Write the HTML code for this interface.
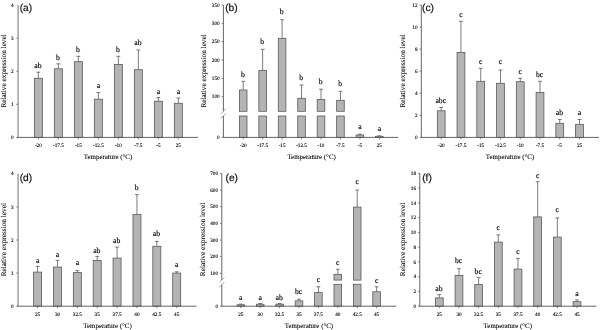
<!DOCTYPE html><html><head><meta charset="utf-8"><title>chart</title><style>html,body{margin:0;padding:0;background:#fff}svg{display:block}text{text-rendering:geometricPrecision}</style></head><body>
<svg width="600" height="330" viewBox="0 0 600 330">
<rect width="600" height="330" fill="#fff"/>
<defs><filter id="bl" x="0" y="0" width="600" height="330" filterUnits="userSpaceOnUse"><feGaussianBlur stdDeviation="0.35"/></filter></defs><g filter="url(#bl)">
<path d="M38.35 78.30V72.20M36.45 72.20H40.25" stroke="#5a5a5a" stroke-width="0.8" fill="none"/>
<rect x="34.35" y="78.30" width="8.00" height="59.10" fill="#b4b4b4" stroke="#5a5a5a" stroke-width="0.8"/>
<text x="37.95" y="68.30" font-family='"Liberation Serif", serif' font-size="7.7" text-anchor="middle" fill="#000" stroke="#000" stroke-width="0.15">ab</text>
<path d="M38.35 137.40v2" stroke="#555" stroke-width="0.7"/>
<text x="38.35" y="146.90" font-family='"Liberation Serif", serif' font-size="5.2" text-anchor="middle" fill="#000" stroke="#000" stroke-width="0.12">-20</text>
<path d="M58.35 68.80V63.80M56.45 63.80H60.25" stroke="#5a5a5a" stroke-width="0.8" fill="none"/>
<rect x="54.35" y="68.80" width="8.00" height="68.60" fill="#b4b4b4" stroke="#5a5a5a" stroke-width="0.8"/>
<text x="57.95" y="60.00" font-family='"Liberation Serif", serif' font-size="7.7" text-anchor="middle" fill="#000" stroke="#000" stroke-width="0.15">b</text>
<path d="M58.35 137.40v2" stroke="#555" stroke-width="0.7"/>
<text x="58.35" y="146.90" font-family='"Liberation Serif", serif' font-size="5.2" text-anchor="middle" fill="#000" stroke="#000" stroke-width="0.12">-17.5</text>
<path d="M78.35 61.70V56.30M76.45 56.30H80.25" stroke="#5a5a5a" stroke-width="0.8" fill="none"/>
<rect x="74.35" y="61.70" width="8.00" height="75.70" fill="#b4b4b4" stroke="#5a5a5a" stroke-width="0.8"/>
<text x="77.95" y="51.70" font-family='"Liberation Serif", serif' font-size="7.7" text-anchor="middle" fill="#000" stroke="#000" stroke-width="0.15">b</text>
<path d="M78.35 137.40v2" stroke="#555" stroke-width="0.7"/>
<text x="78.35" y="146.90" font-family='"Liberation Serif", serif' font-size="5.2" text-anchor="middle" fill="#000" stroke="#000" stroke-width="0.12">-15</text>
<path d="M98.35 99.20V92.50M96.45 92.50H100.25" stroke="#5a5a5a" stroke-width="0.8" fill="none"/>
<rect x="94.35" y="99.20" width="8.00" height="38.20" fill="#b4b4b4" stroke="#5a5a5a" stroke-width="0.8"/>
<text x="98.35" y="88.15" font-family='"Liberation Serif", serif' font-size="7.7" text-anchor="middle" fill="#000" stroke="#000" stroke-width="0.15">a</text>
<path d="M98.35 137.40v2" stroke="#555" stroke-width="0.7"/>
<text x="98.35" y="146.90" font-family='"Liberation Serif", serif' font-size="5.2" text-anchor="middle" fill="#000" stroke="#000" stroke-width="0.12">-12.5</text>
<path d="M118.35 64.50V56.30M116.45 56.30H120.25" stroke="#5a5a5a" stroke-width="0.8" fill="none"/>
<rect x="114.35" y="64.50" width="8.00" height="72.90" fill="#b4b4b4" stroke="#5a5a5a" stroke-width="0.8"/>
<text x="117.95" y="51.70" font-family='"Liberation Serif", serif' font-size="7.7" text-anchor="middle" fill="#000" stroke="#000" stroke-width="0.15">b</text>
<path d="M118.35 137.40v2" stroke="#555" stroke-width="0.7"/>
<text x="118.35" y="146.90" font-family='"Liberation Serif", serif' font-size="5.2" text-anchor="middle" fill="#000" stroke="#000" stroke-width="0.12">-10</text>
<path d="M138.35 69.70V50.00M136.45 50.00H140.25" stroke="#5a5a5a" stroke-width="0.8" fill="none"/>
<rect x="134.35" y="69.70" width="8.00" height="67.70" fill="#b4b4b4" stroke="#5a5a5a" stroke-width="0.8"/>
<text x="137.95" y="45.00" font-family='"Liberation Serif", serif' font-size="7.7" text-anchor="middle" fill="#000" stroke="#000" stroke-width="0.15">ab</text>
<path d="M138.35 137.40v2" stroke="#555" stroke-width="0.7"/>
<text x="138.35" y="146.90" font-family='"Liberation Serif", serif' font-size="5.2" text-anchor="middle" fill="#000" stroke="#000" stroke-width="0.12">-7.5</text>
<path d="M158.35 101.20V97.50M156.45 97.50H160.25" stroke="#5a5a5a" stroke-width="0.8" fill="none"/>
<rect x="154.35" y="101.20" width="8.00" height="36.20" fill="#b4b4b4" stroke="#5a5a5a" stroke-width="0.8"/>
<text x="158.35" y="93.65" font-family='"Liberation Serif", serif' font-size="7.7" text-anchor="middle" fill="#000" stroke="#000" stroke-width="0.15">a</text>
<path d="M158.35 137.40v2" stroke="#555" stroke-width="0.7"/>
<text x="158.35" y="146.90" font-family='"Liberation Serif", serif' font-size="5.2" text-anchor="middle" fill="#000" stroke="#000" stroke-width="0.12">-5</text>
<path d="M178.35 103.30V98.00M176.45 98.00H180.25" stroke="#5a5a5a" stroke-width="0.8" fill="none"/>
<rect x="174.35" y="103.30" width="8.00" height="34.10" fill="#b4b4b4" stroke="#5a5a5a" stroke-width="0.8"/>
<text x="178.35" y="93.95" font-family='"Liberation Serif", serif' font-size="7.7" text-anchor="middle" fill="#000" stroke="#000" stroke-width="0.15">a</text>
<path d="M178.35 137.40v2" stroke="#555" stroke-width="0.7"/>
<text x="178.35" y="146.90" font-family='"Liberation Serif", serif' font-size="5.2" text-anchor="middle" fill="#000" stroke="#000" stroke-width="0.12">25</text>
<path d="M18.10 5.00V137.40" stroke="#a2a2a2" stroke-width="1.5" fill="none"/>
<path d="M17.35 137.40H198.00" stroke="#555" stroke-width="0.9" fill="none"/>
<path d="M16.30 137.40h1.8" stroke="#555" stroke-width="0.7"/>
<text x="13.60" y="139.10" font-family='"Liberation Serif", serif' font-size="5.2" text-anchor="end" fill="#000" stroke="#000" stroke-width="0.12">0</text>
<path d="M16.30 104.30h1.8" stroke="#555" stroke-width="0.7"/>
<text x="13.60" y="106.00" font-family='"Liberation Serif", serif' font-size="5.2" text-anchor="end" fill="#000" stroke="#000" stroke-width="0.12">1</text>
<path d="M16.30 71.20h1.8" stroke="#555" stroke-width="0.7"/>
<text x="13.60" y="72.90" font-family='"Liberation Serif", serif' font-size="5.2" text-anchor="end" fill="#000" stroke="#000" stroke-width="0.12">2</text>
<path d="M16.30 38.10h1.8" stroke="#555" stroke-width="0.7"/>
<text x="13.60" y="39.80" font-family='"Liberation Serif", serif' font-size="5.2" text-anchor="end" fill="#000" stroke="#000" stroke-width="0.12">3</text>
<text x="13.60" y="6.70" font-family='"Liberation Serif", serif' font-size="5.2" text-anchor="end" fill="#000" stroke="#000" stroke-width="0.12">4</text>
<text x="19.70" y="10.70" font-family='"Liberation Sans", sans-serif' font-size="10.2" fill="#111" stroke="#111" stroke-width="0.2">(a)</text>
<text transform="translate(6.20 70.90) rotate(-90)" font-family='"Liberation Serif", serif' font-size="7.3" text-anchor="middle" fill="#000" stroke="#000" stroke-width="0.08">Relative expression level</text>
<text x="108.00" y="159.20" font-family='"Liberation Serif", serif' font-size="6.9" text-anchor="middle" fill="#000" stroke="#000" stroke-width="0.08">Temperature (°C)</text>
<path d="M243.20 90.00V81.30M241.30 81.30H245.10" stroke="#5a5a5a" stroke-width="0.8" fill="none"/>
<rect x="239.40" y="90.00" width="7.60" height="21.30" fill="#b4b4b4" stroke="#5a5a5a" stroke-width="0.8"/>
<rect x="239.40" y="116.00" width="7.60" height="21.40" fill="#b4b4b4" stroke="#5a5a5a" stroke-width="0.8"/>
<text x="242.80" y="77.20" font-family='"Liberation Serif", serif' font-size="7.7" text-anchor="middle" fill="#000" stroke="#000" stroke-width="0.15">b</text>
<path d="M243.20 137.40v2" stroke="#555" stroke-width="0.7"/>
<text x="243.20" y="146.90" font-family='"Liberation Serif", serif' font-size="5.2" text-anchor="middle" fill="#000" stroke="#000" stroke-width="0.12">-20</text>
<path d="M262.65 70.50V49.30M260.75 49.30H264.55" stroke="#5a5a5a" stroke-width="0.8" fill="none"/>
<rect x="258.85" y="70.50" width="7.60" height="40.80" fill="#b4b4b4" stroke="#5a5a5a" stroke-width="0.8"/>
<rect x="258.85" y="116.00" width="7.60" height="21.40" fill="#b4b4b4" stroke="#5a5a5a" stroke-width="0.8"/>
<text x="262.25" y="43.50" font-family='"Liberation Serif", serif' font-size="7.7" text-anchor="middle" fill="#000" stroke="#000" stroke-width="0.15">b</text>
<path d="M262.65 137.40v2" stroke="#555" stroke-width="0.7"/>
<text x="262.65" y="146.90" font-family='"Liberation Serif", serif' font-size="5.2" text-anchor="middle" fill="#000" stroke="#000" stroke-width="0.12">-17.5</text>
<path d="M282.10 38.30V19.70M280.20 19.70H284.00" stroke="#5a5a5a" stroke-width="0.8" fill="none"/>
<rect x="278.30" y="38.30" width="7.60" height="73.00" fill="#b4b4b4" stroke="#5a5a5a" stroke-width="0.8"/>
<rect x="278.30" y="116.00" width="7.60" height="21.40" fill="#b4b4b4" stroke="#5a5a5a" stroke-width="0.8"/>
<text x="281.70" y="14.20" font-family='"Liberation Serif", serif' font-size="7.7" text-anchor="middle" fill="#000" stroke="#000" stroke-width="0.15">b</text>
<path d="M282.10 137.40v2" stroke="#555" stroke-width="0.7"/>
<text x="282.10" y="146.90" font-family='"Liberation Serif", serif' font-size="5.2" text-anchor="middle" fill="#000" stroke="#000" stroke-width="0.12">-15</text>
<path d="M301.55 98.30V85.00M299.65 85.00H303.45" stroke="#5a5a5a" stroke-width="0.8" fill="none"/>
<rect x="297.75" y="98.30" width="7.60" height="13.00" fill="#b4b4b4" stroke="#5a5a5a" stroke-width="0.8"/>
<rect x="297.75" y="116.00" width="7.60" height="21.40" fill="#b4b4b4" stroke="#5a5a5a" stroke-width="0.8"/>
<text x="301.15" y="80.00" font-family='"Liberation Serif", serif' font-size="7.7" text-anchor="middle" fill="#000" stroke="#000" stroke-width="0.15">b</text>
<path d="M301.55 137.40v2" stroke="#555" stroke-width="0.7"/>
<text x="301.55" y="146.90" font-family='"Liberation Serif", serif' font-size="5.2" text-anchor="middle" fill="#000" stroke="#000" stroke-width="0.12">-12.5</text>
<path d="M321.00 99.50V89.20M319.10 89.20H322.90" stroke="#5a5a5a" stroke-width="0.8" fill="none"/>
<rect x="317.20" y="99.50" width="7.60" height="11.80" fill="#b4b4b4" stroke="#5a5a5a" stroke-width="0.8"/>
<rect x="317.20" y="116.00" width="7.60" height="21.40" fill="#b4b4b4" stroke="#5a5a5a" stroke-width="0.8"/>
<text x="320.60" y="83.80" font-family='"Liberation Serif", serif' font-size="7.7" text-anchor="middle" fill="#000" stroke="#000" stroke-width="0.15">b</text>
<path d="M321.00 137.40v2" stroke="#555" stroke-width="0.7"/>
<text x="321.00" y="146.90" font-family='"Liberation Serif", serif' font-size="5.2" text-anchor="middle" fill="#000" stroke="#000" stroke-width="0.12">-10</text>
<path d="M340.45 100.30V91.30M338.55 91.30H342.35" stroke="#5a5a5a" stroke-width="0.8" fill="none"/>
<rect x="336.65" y="100.30" width="7.60" height="11.00" fill="#b4b4b4" stroke="#5a5a5a" stroke-width="0.8"/>
<rect x="336.65" y="116.00" width="7.60" height="21.40" fill="#b4b4b4" stroke="#5a5a5a" stroke-width="0.8"/>
<text x="340.05" y="85.80" font-family='"Liberation Serif", serif' font-size="7.7" text-anchor="middle" fill="#000" stroke="#000" stroke-width="0.15">b</text>
<path d="M340.45 137.40v2" stroke="#555" stroke-width="0.7"/>
<text x="340.45" y="146.90" font-family='"Liberation Serif", serif' font-size="5.2" text-anchor="middle" fill="#000" stroke="#000" stroke-width="0.12">-7.5</text>
<path d="M359.90 135.00V134.20M358.00 134.20H361.80" stroke="#5a5a5a" stroke-width="0.8" fill="none"/>
<rect x="356.10" y="135.00" width="7.60" height="2.40" fill="#b4b4b4" stroke="#5a5a5a" stroke-width="0.8"/>
<text x="359.90" y="128.65" font-family='"Liberation Serif", serif' font-size="7.7" text-anchor="middle" fill="#000" stroke="#000" stroke-width="0.15">a</text>
<path d="M359.90 137.40v2" stroke="#555" stroke-width="0.7"/>
<text x="359.90" y="146.90" font-family='"Liberation Serif", serif' font-size="5.2" text-anchor="middle" fill="#000" stroke="#000" stroke-width="0.12">-5</text>
<path d="M379.35 136.30V135.80M377.45 135.80H381.25" stroke="#5a5a5a" stroke-width="0.8" fill="none"/>
<rect x="375.55" y="136.30" width="7.60" height="1.10" fill="#b4b4b4" stroke="#5a5a5a" stroke-width="0.8"/>
<text x="379.35" y="131.15" font-family='"Liberation Serif", serif' font-size="7.7" text-anchor="middle" fill="#000" stroke="#000" stroke-width="0.15">a</text>
<path d="M379.35 137.40v2" stroke="#555" stroke-width="0.7"/>
<text x="379.35" y="146.90" font-family='"Liberation Serif", serif' font-size="5.2" text-anchor="middle" fill="#000" stroke="#000" stroke-width="0.12">25</text>
<path d="M223.40 5.00V111.30M223.40 116.00V137.40" stroke="#555" stroke-width="0.9" fill="none"/>
<path d="M220.90 113.90L225.90 108.70" stroke="#666" stroke-width="0.6"/>
<path d="M220.90 118.60L225.90 113.40" stroke="#666" stroke-width="0.6"/>
<path d="M222.95 137.40H398.30" stroke="#555" stroke-width="0.9" fill="none"/>
<path d="M221.60 137.40h1.8" stroke="#555" stroke-width="0.7"/>
<text x="219.60" y="139.10" font-family='"Liberation Serif", serif' font-size="5.2" text-anchor="end" fill="#000" stroke="#000" stroke-width="0.12">0</text>
<path d="M221.60 96.70h1.8" stroke="#555" stroke-width="0.7"/>
<text x="219.60" y="98.40" font-family='"Liberation Serif", serif' font-size="5.2" text-anchor="end" fill="#000" stroke="#000" stroke-width="0.12">100</text>
<path d="M221.60 78.37h1.8" stroke="#555" stroke-width="0.7"/>
<text x="219.60" y="80.07" font-family='"Liberation Serif", serif' font-size="5.2" text-anchor="end" fill="#000" stroke="#000" stroke-width="0.12">150</text>
<path d="M221.60 60.03h1.8" stroke="#555" stroke-width="0.7"/>
<text x="219.60" y="61.73" font-family='"Liberation Serif", serif' font-size="5.2" text-anchor="end" fill="#000" stroke="#000" stroke-width="0.12">200</text>
<path d="M221.60 41.70h1.8" stroke="#555" stroke-width="0.7"/>
<text x="219.60" y="43.40" font-family='"Liberation Serif", serif' font-size="5.2" text-anchor="end" fill="#000" stroke="#000" stroke-width="0.12">250</text>
<path d="M221.60 23.37h1.8" stroke="#555" stroke-width="0.7"/>
<text x="219.60" y="25.07" font-family='"Liberation Serif", serif' font-size="5.2" text-anchor="end" fill="#000" stroke="#000" stroke-width="0.12">300</text>
<path d="M221.60 5.03h1.8" stroke="#555" stroke-width="0.7"/>
<text x="219.60" y="6.73" font-family='"Liberation Serif", serif' font-size="5.2" text-anchor="end" fill="#000" stroke="#000" stroke-width="0.12">350</text>
<text x="225.20" y="10.70" font-family='"Liberation Sans", sans-serif' font-size="10.2" fill="#111" stroke="#111" stroke-width="0.2">(b)</text>
<text transform="translate(206.30 70.90) rotate(-90)" font-family='"Liberation Serif", serif' font-size="7.3" text-anchor="middle" fill="#000" stroke="#000" stroke-width="0.08">Relative expression level</text>
<text x="311.60" y="159.20" font-family='"Liberation Serif", serif' font-size="6.9" text-anchor="middle" fill="#000" stroke="#000" stroke-width="0.08">Temperature (°C)</text>
<path d="M441.20 110.80V107.50M439.30 107.50H443.10" stroke="#5a5a5a" stroke-width="0.8" fill="none"/>
<rect x="437.30" y="110.80" width="7.80" height="26.60" fill="#b4b4b4" stroke="#5a5a5a" stroke-width="0.8"/>
<text x="440.80" y="102.80" font-family='"Liberation Serif", serif' font-size="7.7" text-anchor="middle" fill="#000" stroke="#000" stroke-width="0.15">abc</text>
<path d="M441.20 137.40v2" stroke="#555" stroke-width="0.7"/>
<text x="441.20" y="146.90" font-family='"Liberation Serif", serif' font-size="5.2" text-anchor="middle" fill="#000" stroke="#000" stroke-width="0.12">-20</text>
<path d="M460.96 52.50V21.30M459.06 21.30H462.86" stroke="#5a5a5a" stroke-width="0.8" fill="none"/>
<rect x="457.06" y="52.50" width="7.80" height="84.90" fill="#b4b4b4" stroke="#5a5a5a" stroke-width="0.8"/>
<text x="460.96" y="16.65" font-family='"Liberation Serif", serif' font-size="7.7" text-anchor="middle" fill="#000" stroke="#000" stroke-width="0.15">c</text>
<path d="M460.96 137.40v2" stroke="#555" stroke-width="0.7"/>
<text x="460.96" y="146.90" font-family='"Liberation Serif", serif' font-size="5.2" text-anchor="middle" fill="#000" stroke="#000" stroke-width="0.12">-17.5</text>
<path d="M480.72 81.30V68.30M478.82 68.30H482.62" stroke="#5a5a5a" stroke-width="0.8" fill="none"/>
<rect x="476.82" y="81.30" width="7.80" height="56.10" fill="#b4b4b4" stroke="#5a5a5a" stroke-width="0.8"/>
<text x="480.72" y="63.65" font-family='"Liberation Serif", serif' font-size="7.7" text-anchor="middle" fill="#000" stroke="#000" stroke-width="0.15">c</text>
<path d="M480.72 137.40v2" stroke="#555" stroke-width="0.7"/>
<text x="480.72" y="146.90" font-family='"Liberation Serif", serif' font-size="5.2" text-anchor="middle" fill="#000" stroke="#000" stroke-width="0.12">-15</text>
<path d="M500.48 83.30V70.00M498.58 70.00H502.38" stroke="#5a5a5a" stroke-width="0.8" fill="none"/>
<rect x="496.58" y="83.30" width="7.80" height="54.10" fill="#b4b4b4" stroke="#5a5a5a" stroke-width="0.8"/>
<text x="500.48" y="63.65" font-family='"Liberation Serif", serif' font-size="7.7" text-anchor="middle" fill="#000" stroke="#000" stroke-width="0.15">c</text>
<path d="M500.48 137.40v2" stroke="#555" stroke-width="0.7"/>
<text x="500.48" y="146.90" font-family='"Liberation Serif", serif' font-size="5.2" text-anchor="middle" fill="#000" stroke="#000" stroke-width="0.12">-12.5</text>
<path d="M520.24 81.70V78.30M518.34 78.30H522.14" stroke="#5a5a5a" stroke-width="0.8" fill="none"/>
<rect x="516.34" y="81.70" width="7.80" height="55.70" fill="#b4b4b4" stroke="#5a5a5a" stroke-width="0.8"/>
<text x="520.24" y="73.65" font-family='"Liberation Serif", serif' font-size="7.7" text-anchor="middle" fill="#000" stroke="#000" stroke-width="0.15">c</text>
<path d="M520.24 137.40v2" stroke="#555" stroke-width="0.7"/>
<text x="520.24" y="146.90" font-family='"Liberation Serif", serif' font-size="5.2" text-anchor="middle" fill="#000" stroke="#000" stroke-width="0.12">-10</text>
<path d="M540.00 92.50V81.30M538.10 81.30H541.90" stroke="#5a5a5a" stroke-width="0.8" fill="none"/>
<rect x="536.10" y="92.50" width="7.80" height="44.90" fill="#b4b4b4" stroke="#5a5a5a" stroke-width="0.8"/>
<text x="539.60" y="77.00" font-family='"Liberation Serif", serif' font-size="7.7" text-anchor="middle" fill="#000" stroke="#000" stroke-width="0.15">bc</text>
<path d="M540.00 137.40v2" stroke="#555" stroke-width="0.7"/>
<text x="540.00" y="146.90" font-family='"Liberation Serif", serif' font-size="5.2" text-anchor="middle" fill="#000" stroke="#000" stroke-width="0.12">-7.5</text>
<path d="M559.76 123.30V119.50M557.86 119.50H561.66" stroke="#5a5a5a" stroke-width="0.8" fill="none"/>
<rect x="555.86" y="123.30" width="7.80" height="14.10" fill="#b4b4b4" stroke="#5a5a5a" stroke-width="0.8"/>
<text x="559.36" y="114.70" font-family='"Liberation Serif", serif' font-size="7.7" text-anchor="middle" fill="#000" stroke="#000" stroke-width="0.15">ab</text>
<path d="M559.76 137.40v2" stroke="#555" stroke-width="0.7"/>
<text x="559.76" y="146.90" font-family='"Liberation Serif", serif' font-size="5.2" text-anchor="middle" fill="#000" stroke="#000" stroke-width="0.12">-5</text>
<path d="M579.52 124.30V119.50M577.62 119.50H581.42" stroke="#5a5a5a" stroke-width="0.8" fill="none"/>
<rect x="575.62" y="124.30" width="7.80" height="13.10" fill="#b4b4b4" stroke="#5a5a5a" stroke-width="0.8"/>
<text x="579.52" y="115.25" font-family='"Liberation Serif", serif' font-size="7.7" text-anchor="middle" fill="#000" stroke="#000" stroke-width="0.15">a</text>
<path d="M579.52 137.40v2" stroke="#555" stroke-width="0.7"/>
<text x="579.52" y="146.90" font-family='"Liberation Serif", serif' font-size="5.2" text-anchor="middle" fill="#000" stroke="#000" stroke-width="0.12">25</text>
<path d="M421.30 5.00V137.40" stroke="#555" stroke-width="0.9" fill="none"/>
<path d="M420.85 137.40H599.00" stroke="#555" stroke-width="0.9" fill="none"/>
<path d="M419.50 137.40h1.8" stroke="#555" stroke-width="0.7"/>
<text x="417.50" y="139.10" font-family='"Liberation Serif", serif' font-size="5.2" text-anchor="end" fill="#000" stroke="#000" stroke-width="0.12">0</text>
<path d="M419.50 115.34h1.8" stroke="#555" stroke-width="0.7"/>
<text x="417.50" y="117.04" font-family='"Liberation Serif", serif' font-size="5.2" text-anchor="end" fill="#000" stroke="#000" stroke-width="0.12">2</text>
<path d="M419.50 93.28h1.8" stroke="#555" stroke-width="0.7"/>
<text x="417.50" y="94.98" font-family='"Liberation Serif", serif' font-size="5.2" text-anchor="end" fill="#000" stroke="#000" stroke-width="0.12">4</text>
<path d="M419.50 71.22h1.8" stroke="#555" stroke-width="0.7"/>
<text x="417.50" y="72.92" font-family='"Liberation Serif", serif' font-size="5.2" text-anchor="end" fill="#000" stroke="#000" stroke-width="0.12">6</text>
<path d="M419.50 49.16h1.8" stroke="#555" stroke-width="0.7"/>
<text x="417.50" y="50.86" font-family='"Liberation Serif", serif' font-size="5.2" text-anchor="end" fill="#000" stroke="#000" stroke-width="0.12">8</text>
<path d="M419.50 27.10h1.8" stroke="#555" stroke-width="0.7"/>
<text x="417.50" y="28.80" font-family='"Liberation Serif", serif' font-size="5.2" text-anchor="end" fill="#000" stroke="#000" stroke-width="0.12">10</text>
<path d="M419.50 5.04h1.8" stroke="#555" stroke-width="0.7"/>
<text x="417.50" y="6.74" font-family='"Liberation Serif", serif' font-size="5.2" text-anchor="end" fill="#000" stroke="#000" stroke-width="0.12">12</text>
<text x="422.10" y="10.70" font-family='"Liberation Sans", sans-serif' font-size="10.2" fill="#111" stroke="#111" stroke-width="0.2">(c)</text>
<text transform="translate(405.30 70.90) rotate(-90)" font-family='"Liberation Serif", serif' font-size="7.3" text-anchor="middle" fill="#000" stroke="#000" stroke-width="0.08">Relative expression level</text>
<text x="510.00" y="159.20" font-family='"Liberation Serif", serif' font-size="6.9" text-anchor="middle" fill="#000" stroke="#000" stroke-width="0.08">Temperature (°C)</text>
<g transform="translate(0 0.4)">
<path d="M37.60 271.70V266.00M35.70 266.00H39.50" stroke="#5a5a5a" stroke-width="0.8" fill="none"/>
<rect x="33.60" y="271.70" width="8.00" height="34.10" fill="#b4b4b4" stroke="#5a5a5a" stroke-width="0.8"/>
<text x="37.60" y="262.45" font-family='"Liberation Serif", serif' font-size="7.7" text-anchor="middle" fill="#000" stroke="#000" stroke-width="0.15">a</text>
<path d="M37.60 305.80v2" stroke="#555" stroke-width="0.7"/>
<text x="37.60" y="315.30" font-family='"Liberation Serif", serif' font-size="5.2" text-anchor="middle" fill="#000" stroke="#000" stroke-width="0.12">25</text>
<path d="M57.47 266.70V260.00M55.57 260.00H59.37" stroke="#5a5a5a" stroke-width="0.8" fill="none"/>
<rect x="53.47" y="266.70" width="8.00" height="39.10" fill="#b4b4b4" stroke="#5a5a5a" stroke-width="0.8"/>
<text x="57.47" y="256.65" font-family='"Liberation Serif", serif' font-size="7.7" text-anchor="middle" fill="#000" stroke="#000" stroke-width="0.15">a</text>
<path d="M57.47 305.80v2" stroke="#555" stroke-width="0.7"/>
<text x="57.47" y="315.30" font-family='"Liberation Serif", serif' font-size="5.2" text-anchor="middle" fill="#000" stroke="#000" stroke-width="0.12">30</text>
<path d="M77.34 272.20V270.20M75.44 270.20H79.24" stroke="#5a5a5a" stroke-width="0.8" fill="none"/>
<rect x="73.34" y="272.20" width="8.00" height="33.60" fill="#b4b4b4" stroke="#5a5a5a" stroke-width="0.8"/>
<text x="77.34" y="264.95" font-family='"Liberation Serif", serif' font-size="7.7" text-anchor="middle" fill="#000" stroke="#000" stroke-width="0.15">a</text>
<path d="M77.34 305.80v2" stroke="#555" stroke-width="0.7"/>
<text x="77.34" y="315.30" font-family='"Liberation Serif", serif' font-size="5.2" text-anchor="middle" fill="#000" stroke="#000" stroke-width="0.12">32.5</text>
<path d="M97.21 260.00V256.00M95.31 256.00H99.11" stroke="#5a5a5a" stroke-width="0.8" fill="none"/>
<rect x="93.21" y="260.00" width="8.00" height="45.80" fill="#b4b4b4" stroke="#5a5a5a" stroke-width="0.8"/>
<text x="96.81" y="252.70" font-family='"Liberation Serif", serif' font-size="7.7" text-anchor="middle" fill="#000" stroke="#000" stroke-width="0.15">ab</text>
<path d="M97.21 305.80v2" stroke="#555" stroke-width="0.7"/>
<text x="97.21" y="315.30" font-family='"Liberation Serif", serif' font-size="5.2" text-anchor="middle" fill="#000" stroke="#000" stroke-width="0.12">35</text>
<path d="M117.08 257.70V246.70M115.18 246.70H118.98" stroke="#5a5a5a" stroke-width="0.8" fill="none"/>
<rect x="113.08" y="257.70" width="8.00" height="48.10" fill="#b4b4b4" stroke="#5a5a5a" stroke-width="0.8"/>
<text x="116.68" y="242.50" font-family='"Liberation Serif", serif' font-size="7.7" text-anchor="middle" fill="#000" stroke="#000" stroke-width="0.15">ab</text>
<path d="M117.08 305.80v2" stroke="#555" stroke-width="0.7"/>
<text x="117.08" y="315.30" font-family='"Liberation Serif", serif' font-size="5.2" text-anchor="middle" fill="#000" stroke="#000" stroke-width="0.12">37.5</text>
<path d="M136.95 214.20V194.20M135.05 194.20H138.85" stroke="#5a5a5a" stroke-width="0.8" fill="none"/>
<rect x="132.95" y="214.20" width="8.00" height="91.60" fill="#b4b4b4" stroke="#5a5a5a" stroke-width="0.8"/>
<text x="136.55" y="189.40" font-family='"Liberation Serif", serif' font-size="7.7" text-anchor="middle" fill="#000" stroke="#000" stroke-width="0.15">b</text>
<path d="M136.95 305.80v2" stroke="#555" stroke-width="0.7"/>
<text x="136.95" y="315.30" font-family='"Liberation Serif", serif' font-size="5.2" text-anchor="middle" fill="#000" stroke="#000" stroke-width="0.12">40</text>
<path d="M156.82 245.90V241.00M154.92 241.00H158.72" stroke="#5a5a5a" stroke-width="0.8" fill="none"/>
<rect x="152.82" y="245.90" width="8.00" height="59.90" fill="#b4b4b4" stroke="#5a5a5a" stroke-width="0.8"/>
<text x="156.42" y="235.90" font-family='"Liberation Serif", serif' font-size="7.7" text-anchor="middle" fill="#000" stroke="#000" stroke-width="0.15">ab</text>
<path d="M156.82 305.80v2" stroke="#555" stroke-width="0.7"/>
<text x="156.82" y="315.30" font-family='"Liberation Serif", serif' font-size="5.2" text-anchor="middle" fill="#000" stroke="#000" stroke-width="0.12">42.5</text>
<path d="M176.69 272.70V271.40M174.79 271.40H178.59" stroke="#5a5a5a" stroke-width="0.8" fill="none"/>
<rect x="172.69" y="272.70" width="8.00" height="33.10" fill="#b4b4b4" stroke="#5a5a5a" stroke-width="0.8"/>
<text x="176.69" y="266.15" font-family='"Liberation Serif", serif' font-size="7.7" text-anchor="middle" fill="#000" stroke="#000" stroke-width="0.15">a</text>
<path d="M176.69 305.80v2" stroke="#555" stroke-width="0.7"/>
<text x="176.69" y="315.30" font-family='"Liberation Serif", serif' font-size="5.2" text-anchor="middle" fill="#000" stroke="#000" stroke-width="0.12">45</text>
<path d="M18.10 173.40V305.80" stroke="#a2a2a2" stroke-width="1.5" fill="none"/>
<path d="M17.35 305.80H196.50" stroke="#555" stroke-width="0.9" fill="none"/>
<path d="M16.30 305.80h1.8" stroke="#555" stroke-width="0.7"/>
<text x="13.60" y="307.50" font-family='"Liberation Serif", serif' font-size="5.2" text-anchor="end" fill="#000" stroke="#000" stroke-width="0.12">0</text>
<path d="M16.30 272.70h1.8" stroke="#555" stroke-width="0.7"/>
<text x="13.60" y="274.40" font-family='"Liberation Serif", serif' font-size="5.2" text-anchor="end" fill="#000" stroke="#000" stroke-width="0.12">1</text>
<path d="M16.30 239.60h1.8" stroke="#555" stroke-width="0.7"/>
<text x="13.60" y="241.30" font-family='"Liberation Serif", serif' font-size="5.2" text-anchor="end" fill="#000" stroke="#000" stroke-width="0.12">2</text>
<path d="M16.30 206.50h1.8" stroke="#555" stroke-width="0.7"/>
<text x="13.60" y="208.20" font-family='"Liberation Serif", serif' font-size="5.2" text-anchor="end" fill="#000" stroke="#000" stroke-width="0.12">3</text>
<text x="13.60" y="175.10" font-family='"Liberation Serif", serif' font-size="5.2" text-anchor="end" fill="#000" stroke="#000" stroke-width="0.12">4</text>
<text x="19.70" y="180.80" font-family='"Liberation Sans", sans-serif' font-size="10.2" fill="#111" stroke="#111" stroke-width="0.2">(d)</text>
<text transform="translate(6.20 239.30) rotate(-90)" font-family='"Liberation Serif", serif' font-size="7.3" text-anchor="middle" fill="#000" stroke="#000" stroke-width="0.08">Relative expression level</text>
<text x="107.50" y="327.80" font-family='"Liberation Serif", serif' font-size="6.9" text-anchor="middle" fill="#000" stroke="#000" stroke-width="0.08">Temperature (°C)</text>
<path d="M240.80 304.40V303.70M238.90 303.70H242.70" stroke="#5a5a5a" stroke-width="0.8" fill="none"/>
<rect x="237.00" y="304.40" width="7.60" height="1.40" fill="#b4b4b4" stroke="#5a5a5a" stroke-width="0.8"/>
<text x="240.80" y="299.95" font-family='"Liberation Serif", serif' font-size="7.7" text-anchor="middle" fill="#000" stroke="#000" stroke-width="0.15">a</text>
<path d="M240.80 305.80v2" stroke="#555" stroke-width="0.7"/>
<text x="240.80" y="315.30" font-family='"Liberation Serif", serif' font-size="5.2" text-anchor="middle" fill="#000" stroke="#000" stroke-width="0.12">25</text>
<path d="M260.20 303.80V303.10M258.30 303.10H262.10" stroke="#5a5a5a" stroke-width="0.8" fill="none"/>
<rect x="256.40" y="303.80" width="7.60" height="2.00" fill="#b4b4b4" stroke="#5a5a5a" stroke-width="0.8"/>
<text x="260.20" y="299.15" font-family='"Liberation Serif", serif' font-size="7.7" text-anchor="middle" fill="#000" stroke="#000" stroke-width="0.15">a</text>
<path d="M260.20 305.80v2" stroke="#555" stroke-width="0.7"/>
<text x="260.20" y="315.30" font-family='"Liberation Serif", serif' font-size="5.2" text-anchor="middle" fill="#000" stroke="#000" stroke-width="0.12">30</text>
<path d="M279.60 303.80V303.10M277.70 303.10H281.50" stroke="#5a5a5a" stroke-width="0.8" fill="none"/>
<rect x="275.80" y="303.80" width="7.60" height="2.00" fill="#b4b4b4" stroke="#5a5a5a" stroke-width="0.8"/>
<text x="279.20" y="299.20" font-family='"Liberation Serif", serif' font-size="7.7" text-anchor="middle" fill="#000" stroke="#000" stroke-width="0.15">ab</text>
<path d="M279.60 305.80v2" stroke="#555" stroke-width="0.7"/>
<text x="279.60" y="315.30" font-family='"Liberation Serif", serif' font-size="5.2" text-anchor="middle" fill="#000" stroke="#000" stroke-width="0.12">32.5</text>
<path d="M299.00 300.50V298.90M297.10 298.90H300.90" stroke="#5a5a5a" stroke-width="0.8" fill="none"/>
<rect x="295.20" y="300.50" width="7.60" height="5.30" fill="#b4b4b4" stroke="#5a5a5a" stroke-width="0.8"/>
<text x="298.60" y="293.90" font-family='"Liberation Serif", serif' font-size="7.7" text-anchor="middle" fill="#000" stroke="#000" stroke-width="0.15">bc</text>
<path d="M299.00 305.80v2" stroke="#555" stroke-width="0.7"/>
<text x="299.00" y="315.30" font-family='"Liberation Serif", serif' font-size="5.2" text-anchor="middle" fill="#000" stroke="#000" stroke-width="0.12">35</text>
<path d="M318.40 292.20V286.40M316.50 286.40H320.30" stroke="#5a5a5a" stroke-width="0.8" fill="none"/>
<rect x="314.60" y="292.20" width="7.60" height="13.60" fill="#b4b4b4" stroke="#5a5a5a" stroke-width="0.8"/>
<text x="318.40" y="281.35" font-family='"Liberation Serif", serif' font-size="7.7" text-anchor="middle" fill="#000" stroke="#000" stroke-width="0.15">c</text>
<path d="M318.40 305.80v2" stroke="#555" stroke-width="0.7"/>
<text x="318.40" y="315.30" font-family='"Liberation Serif", serif' font-size="5.2" text-anchor="middle" fill="#000" stroke="#000" stroke-width="0.12">37.5</text>
<path d="M337.80 273.90V268.90M335.90 268.90H339.70" stroke="#5a5a5a" stroke-width="0.8" fill="none"/>
<rect x="334.00" y="273.90" width="7.60" height="5.80" fill="#b4b4b4" stroke="#5a5a5a" stroke-width="0.8"/>
<rect x="334.00" y="283.90" width="7.60" height="21.90" fill="#b4b4b4" stroke="#5a5a5a" stroke-width="0.8"/>
<text x="337.80" y="264.95" font-family='"Liberation Serif", serif' font-size="7.7" text-anchor="middle" fill="#000" stroke="#000" stroke-width="0.15">c</text>
<path d="M337.80 305.80v2" stroke="#555" stroke-width="0.7"/>
<text x="337.80" y="315.30" font-family='"Liberation Serif", serif' font-size="5.2" text-anchor="middle" fill="#000" stroke="#000" stroke-width="0.12">40</text>
<path d="M357.20 206.70V189.70M355.30 189.70H359.10" stroke="#5a5a5a" stroke-width="0.8" fill="none"/>
<rect x="353.40" y="206.70" width="7.60" height="73.00" fill="#b4b4b4" stroke="#5a5a5a" stroke-width="0.8"/>
<rect x="353.40" y="283.90" width="7.60" height="21.90" fill="#b4b4b4" stroke="#5a5a5a" stroke-width="0.8"/>
<text x="357.20" y="183.85" font-family='"Liberation Serif", serif' font-size="7.7" text-anchor="middle" fill="#000" stroke="#000" stroke-width="0.15">c</text>
<path d="M357.20 305.80v2" stroke="#555" stroke-width="0.7"/>
<text x="357.20" y="315.30" font-family='"Liberation Serif", serif' font-size="5.2" text-anchor="middle" fill="#000" stroke="#000" stroke-width="0.12">42.5</text>
<path d="M376.60 291.40V286.40M374.70 286.40H378.50" stroke="#5a5a5a" stroke-width="0.8" fill="none"/>
<rect x="372.80" y="291.40" width="7.60" height="14.40" fill="#b4b4b4" stroke="#5a5a5a" stroke-width="0.8"/>
<text x="376.60" y="282.15" font-family='"Liberation Serif", serif' font-size="7.7" text-anchor="middle" fill="#000" stroke="#000" stroke-width="0.15">c</text>
<path d="M376.60 305.80v2" stroke="#555" stroke-width="0.7"/>
<text x="376.60" y="315.30" font-family='"Liberation Serif", serif' font-size="5.2" text-anchor="middle" fill="#000" stroke="#000" stroke-width="0.12">45</text>
<path d="M221.80 173.00V279.50M221.80 284.40V305.80" stroke="#555" stroke-width="0.9" fill="none"/>
<path d="M219.30 282.10L224.30 276.90" stroke="#666" stroke-width="0.6"/>
<path d="M219.30 287.00L224.30 281.80" stroke="#666" stroke-width="0.6"/>
<path d="M221.35 305.80H396.30" stroke="#555" stroke-width="0.9" fill="none"/>
<path d="M220.00 305.80h1.8" stroke="#555" stroke-width="0.7"/>
<text x="218.00" y="307.50" font-family='"Liberation Serif", serif' font-size="5.2" text-anchor="end" fill="#000" stroke="#000" stroke-width="0.12">0</text>
<path d="M220.00 273.00h1.8" stroke="#555" stroke-width="0.7"/>
<text x="218.00" y="274.70" font-family='"Liberation Serif", serif' font-size="5.2" text-anchor="end" fill="#000" stroke="#000" stroke-width="0.12">100</text>
<path d="M220.00 256.33h1.8" stroke="#555" stroke-width="0.7"/>
<text x="218.00" y="258.03" font-family='"Liberation Serif", serif' font-size="5.2" text-anchor="end" fill="#000" stroke="#000" stroke-width="0.12">200</text>
<path d="M220.00 239.67h1.8" stroke="#555" stroke-width="0.7"/>
<text x="218.00" y="241.37" font-family='"Liberation Serif", serif' font-size="5.2" text-anchor="end" fill="#000" stroke="#000" stroke-width="0.12">300</text>
<path d="M220.00 223.00h1.8" stroke="#555" stroke-width="0.7"/>
<text x="218.00" y="224.70" font-family='"Liberation Serif", serif' font-size="5.2" text-anchor="end" fill="#000" stroke="#000" stroke-width="0.12">400</text>
<path d="M220.00 206.33h1.8" stroke="#555" stroke-width="0.7"/>
<text x="218.00" y="208.03" font-family='"Liberation Serif", serif' font-size="5.2" text-anchor="end" fill="#000" stroke="#000" stroke-width="0.12">500</text>
<path d="M220.00 189.67h1.8" stroke="#555" stroke-width="0.7"/>
<text x="218.00" y="191.37" font-family='"Liberation Serif", serif' font-size="5.2" text-anchor="end" fill="#000" stroke="#000" stroke-width="0.12">600</text>
<path d="M220.00 173.00h1.8" stroke="#555" stroke-width="0.7"/>
<text x="218.00" y="174.70" font-family='"Liberation Serif", serif' font-size="5.2" text-anchor="end" fill="#000" stroke="#000" stroke-width="0.12">700</text>
<text x="225.50" y="180.80" font-family='"Liberation Sans", sans-serif' font-size="10.2" fill="#111" stroke="#111" stroke-width="0.2">(e)</text>
<text transform="translate(204.60 239.10) rotate(-90)" font-family='"Liberation Serif", serif' font-size="7.3" text-anchor="middle" fill="#000" stroke="#000" stroke-width="0.08">Relative expression level</text>
<text x="308.90" y="327.80" font-family='"Liberation Serif", serif' font-size="6.9" text-anchor="middle" fill="#000" stroke="#000" stroke-width="0.08">Temperature (°C)</text>
<path d="M439.30 297.50V294.20M437.40 294.20H441.20" stroke="#5a5a5a" stroke-width="0.8" fill="none"/>
<rect x="435.40" y="297.50" width="7.80" height="8.30" fill="#b4b4b4" stroke="#5a5a5a" stroke-width="0.8"/>
<text x="438.90" y="290.50" font-family='"Liberation Serif", serif' font-size="7.7" text-anchor="middle" fill="#000" stroke="#000" stroke-width="0.15">ab</text>
<path d="M439.30 305.80v2" stroke="#555" stroke-width="0.7"/>
<text x="439.30" y="315.30" font-family='"Liberation Serif", serif' font-size="5.2" text-anchor="middle" fill="#000" stroke="#000" stroke-width="0.12">25</text>
<path d="M458.97 275.00V268.30M457.07 268.30H460.87" stroke="#5a5a5a" stroke-width="0.8" fill="none"/>
<rect x="455.07" y="275.00" width="7.80" height="30.80" fill="#b4b4b4" stroke="#5a5a5a" stroke-width="0.8"/>
<text x="458.57" y="262.80" font-family='"Liberation Serif", serif' font-size="7.7" text-anchor="middle" fill="#000" stroke="#000" stroke-width="0.15">bc</text>
<path d="M458.97 305.80v2" stroke="#555" stroke-width="0.7"/>
<text x="458.97" y="315.30" font-family='"Liberation Serif", serif' font-size="5.2" text-anchor="middle" fill="#000" stroke="#000" stroke-width="0.12">30</text>
<path d="M478.64 284.20V277.00M476.74 277.00H480.54" stroke="#5a5a5a" stroke-width="0.8" fill="none"/>
<rect x="474.74" y="284.20" width="7.80" height="21.60" fill="#b4b4b4" stroke="#5a5a5a" stroke-width="0.8"/>
<text x="478.24" y="273.80" font-family='"Liberation Serif", serif' font-size="7.7" text-anchor="middle" fill="#000" stroke="#000" stroke-width="0.15">bc</text>
<path d="M478.64 305.80v2" stroke="#555" stroke-width="0.7"/>
<text x="478.64" y="315.30" font-family='"Liberation Serif", serif' font-size="5.2" text-anchor="middle" fill="#000" stroke="#000" stroke-width="0.12">32.5</text>
<path d="M498.31 241.70V234.50M496.41 234.50H500.21" stroke="#5a5a5a" stroke-width="0.8" fill="none"/>
<rect x="494.41" y="241.70" width="7.80" height="64.10" fill="#b4b4b4" stroke="#5a5a5a" stroke-width="0.8"/>
<text x="498.31" y="229.45" font-family='"Liberation Serif", serif' font-size="7.7" text-anchor="middle" fill="#000" stroke="#000" stroke-width="0.15">c</text>
<path d="M498.31 305.80v2" stroke="#555" stroke-width="0.7"/>
<text x="498.31" y="315.30" font-family='"Liberation Serif", serif' font-size="5.2" text-anchor="middle" fill="#000" stroke="#000" stroke-width="0.12">35</text>
<path d="M517.98 268.70V258.00M516.08 258.00H519.88" stroke="#5a5a5a" stroke-width="0.8" fill="none"/>
<rect x="514.08" y="268.70" width="7.80" height="37.10" fill="#b4b4b4" stroke="#5a5a5a" stroke-width="0.8"/>
<text x="517.98" y="253.25" font-family='"Liberation Serif", serif' font-size="7.7" text-anchor="middle" fill="#000" stroke="#000" stroke-width="0.15">c</text>
<path d="M517.98 305.80v2" stroke="#555" stroke-width="0.7"/>
<text x="517.98" y="315.30" font-family='"Liberation Serif", serif' font-size="5.2" text-anchor="middle" fill="#000" stroke="#000" stroke-width="0.12">37.5</text>
<path d="M537.65 216.50V181.30M535.75 181.30H539.55" stroke="#5a5a5a" stroke-width="0.8" fill="none"/>
<rect x="533.75" y="216.50" width="7.80" height="89.30" fill="#b4b4b4" stroke="#5a5a5a" stroke-width="0.8"/>
<text x="537.65" y="177.75" font-family='"Liberation Serif", serif' font-size="7.7" text-anchor="middle" fill="#000" stroke="#000" stroke-width="0.15">c</text>
<path d="M537.65 305.80v2" stroke="#555" stroke-width="0.7"/>
<text x="537.65" y="315.30" font-family='"Liberation Serif", serif' font-size="5.2" text-anchor="middle" fill="#000" stroke="#000" stroke-width="0.12">40</text>
<path d="M557.32 236.70V217.50M555.42 217.50H559.22" stroke="#5a5a5a" stroke-width="0.8" fill="none"/>
<rect x="553.42" y="236.70" width="7.80" height="69.10" fill="#b4b4b4" stroke="#5a5a5a" stroke-width="0.8"/>
<text x="557.32" y="211.95" font-family='"Liberation Serif", serif' font-size="7.7" text-anchor="middle" fill="#000" stroke="#000" stroke-width="0.15">c</text>
<path d="M557.32 305.80v2" stroke="#555" stroke-width="0.7"/>
<text x="557.32" y="315.30" font-family='"Liberation Serif", serif' font-size="5.2" text-anchor="middle" fill="#000" stroke="#000" stroke-width="0.12">42.5</text>
<path d="M576.99 301.30V299.50M575.09 299.50H578.89" stroke="#5a5a5a" stroke-width="0.8" fill="none"/>
<rect x="573.09" y="301.30" width="7.80" height="4.50" fill="#b4b4b4" stroke="#5a5a5a" stroke-width="0.8"/>
<text x="576.99" y="295.25" font-family='"Liberation Serif", serif' font-size="7.7" text-anchor="middle" fill="#000" stroke="#000" stroke-width="0.15">a</text>
<path d="M576.99 305.80v2" stroke="#555" stroke-width="0.7"/>
<text x="576.99" y="315.30" font-family='"Liberation Serif", serif' font-size="5.2" text-anchor="middle" fill="#000" stroke="#000" stroke-width="0.12">45</text>
<path d="M419.80 173.00V305.80" stroke="#555" stroke-width="0.9" fill="none"/>
<path d="M419.35 305.80H596.40" stroke="#555" stroke-width="0.9" fill="none"/>
<path d="M418.00 305.80h1.8" stroke="#555" stroke-width="0.7"/>
<text x="416.00" y="307.50" font-family='"Liberation Serif", serif' font-size="5.2" text-anchor="end" fill="#000" stroke="#000" stroke-width="0.12">0</text>
<path d="M418.00 291.04h1.8" stroke="#555" stroke-width="0.7"/>
<text x="416.00" y="292.74" font-family='"Liberation Serif", serif' font-size="5.2" text-anchor="end" fill="#000" stroke="#000" stroke-width="0.12">2</text>
<path d="M418.00 276.29h1.8" stroke="#555" stroke-width="0.7"/>
<text x="416.00" y="277.99" font-family='"Liberation Serif", serif' font-size="5.2" text-anchor="end" fill="#000" stroke="#000" stroke-width="0.12">4</text>
<path d="M418.00 261.53h1.8" stroke="#555" stroke-width="0.7"/>
<text x="416.00" y="263.23" font-family='"Liberation Serif", serif' font-size="5.2" text-anchor="end" fill="#000" stroke="#000" stroke-width="0.12">6</text>
<path d="M418.00 246.78h1.8" stroke="#555" stroke-width="0.7"/>
<text x="416.00" y="248.48" font-family='"Liberation Serif", serif' font-size="5.2" text-anchor="end" fill="#000" stroke="#000" stroke-width="0.12">8</text>
<path d="M418.00 232.02h1.8" stroke="#555" stroke-width="0.7"/>
<text x="416.00" y="233.72" font-family='"Liberation Serif", serif' font-size="5.2" text-anchor="end" fill="#000" stroke="#000" stroke-width="0.12">10</text>
<path d="M418.00 217.26h1.8" stroke="#555" stroke-width="0.7"/>
<text x="416.00" y="218.96" font-family='"Liberation Serif", serif' font-size="5.2" text-anchor="end" fill="#000" stroke="#000" stroke-width="0.12">12</text>
<path d="M418.00 202.51h1.8" stroke="#555" stroke-width="0.7"/>
<text x="416.00" y="204.21" font-family='"Liberation Serif", serif' font-size="5.2" text-anchor="end" fill="#000" stroke="#000" stroke-width="0.12">14</text>
<path d="M418.00 187.75h1.8" stroke="#555" stroke-width="0.7"/>
<text x="416.00" y="189.45" font-family='"Liberation Serif", serif' font-size="5.2" text-anchor="end" fill="#000" stroke="#000" stroke-width="0.12">16</text>
<path d="M418.00 173.00h1.8" stroke="#555" stroke-width="0.7"/>
<text x="416.00" y="174.70" font-family='"Liberation Serif", serif' font-size="5.2" text-anchor="end" fill="#000" stroke="#000" stroke-width="0.12">18</text>
<text x="422.20" y="180.80" font-family='"Liberation Sans", sans-serif' font-size="10.2" fill="#111" stroke="#111" stroke-width="0.2">(f)</text>
<text transform="translate(404.50 239.10) rotate(-90)" font-family='"Liberation Serif", serif' font-size="7.3" text-anchor="middle" fill="#000" stroke="#000" stroke-width="0.08">Relative expression level</text>
<text x="507.80" y="327.80" font-family='"Liberation Serif", serif' font-size="6.9" text-anchor="middle" fill="#000" stroke="#000" stroke-width="0.08">Temperature (°C)</text>
</g>
</g></svg></body></html>
